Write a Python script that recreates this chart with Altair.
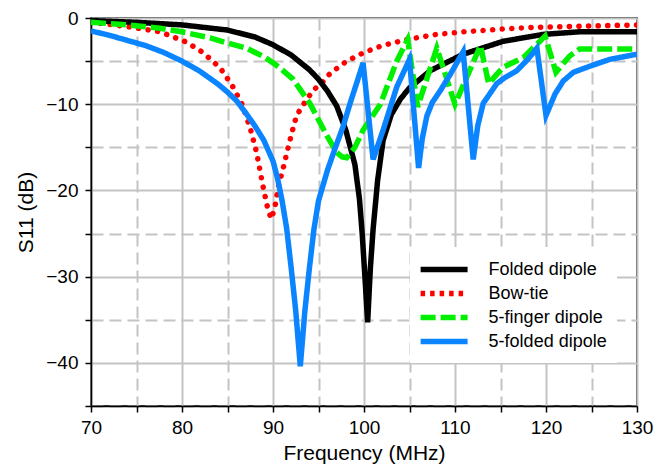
import altair as alt
import pandas as pd

series_names = ["Folded dipole", "Bow-tie", "5-finger dipole", "5-folded dipole"]
series_colors = ["#000000", "#ff0000", "#00f000", "#0a84ff"]
series_dashes = [[1, 0], [4.5, 5], [15, 5], [1, 0]]
dot_dash = [0.1, 9.5]

folded_f = [70, 75, 80, 85, 88, 90, 92, 94, 95, 96, 97, 98, 99, 99.5, 99.8, 100.1, 100.4,
            100.7, 101.0, 101.5, 102.1, 103, 104, 105, 107.3, 110.9, 115.3, 119.7, 123.7, 130]
folded_s = [-0.3, -0.5, -0.8, -1.4, -2.2, -3.1, -4.3, -6.0, -7.1, -8.5, -10.2, -13.0, -17.0, -21.0, -25.0, -30.0, -35.3,
            -29.0, -24.5, -18.8, -14.2, -11.2, -9.4, -8.1, -6.1, -4.2, -2.7, -1.9, -1.6, -1.6]

bowtie_f = [70, 74, 77.6, 80.5, 82.3, 84.2, 85.5, 86.6, 87.5, 88.2, 88.9, 89.4, 89.8, 90.2, 90.6,
            91.1, 91.6, 92.1, 92.6, 93.3, 94.4, 95.4, 96.3, 98.1, 100, 102, 104.7, 108, 111, 115,
            118, 122, 126, 130]
bowtie_s = [-0.5, -1.0, -1.6, -2.8, -4.0, -5.8, -7.8, -10.0, -12.8, -15.6, -19.5, -22.0, -23.3, -22.0, -19.5,
            -17.5, -15.3, -13.2, -11.3, -10.1, -8.4, -7.5, -6.4, -5.0, -4.0, -3.2, -2.5, -1.9, -1.6, -1.3,
            -1.1, -1.0, -0.9, -0.8]

finger_f = [70, 74, 77.6, 80, 83.1, 85, 87.1, 89, 90, 91, 92.2, 93, 94.1, 95, 96, 97, 97.6, 98.1, 99, 99.9,
            101.8, 103.6, 104.8, 105.9, 108, 110, 112.8, 113.7, 115.3, 117.5, 119.9, 121.1, 122.6, 123.7, 130]
finger_s = [-0.5, -0.8, -1.2, -1.6, -2.3, -2.9, -3.5, -4.5, -5.2, -6.0, -7.1, -8.3, -10.0, -11.8, -13.8, -15.6, -16.1, -16.2, -15.0, -13.0,
            -10.0, -5.0, -2.5, -10.3, -3.5, -10.0, -3.2, -7.6, -5.7, -4.6, -2.1, -6.3, -4.4, -3.6, -3.6]

fivefold_f = [70, 72, 74, 76, 78, 80, 82, 84, 85, 86, 87, 88, 89, 90, 90.5, 91, 91.5, 92, 92.5, 93,
              93.5, 94, 94.5, 95, 96, 97, 97.7, 98.5, 99.3, 99.9,
              101, 102.1, 103.6, 105,
              106, 106.4, 106.9, 107.5, 108.4, 109.5, 110.9,
              112, 112.5, 113.1, 114.6, 115.5, 116.8, 118, 119,
              120, 121, 121.9, 123, 124.8, 127, 130]
fivefold_s = [-1.5, -2.0, -2.6, -3.2, -4.0, -5.0, -6.2, -7.7, -8.6, -9.6, -11.0, -12.5, -14.2, -16.6, -18.6, -21.2, -24.4, -29.0, -34.0, -40.4,
              -34.0, -29.0, -24.5, -21.2, -17.6, -14.6, -12.6, -9.8, -7.2, -5.2,
              -16.4, -13.0, -8.0, -4.8,
              -17.4, -14.0, -11.4, -9.8, -8.4, -6.5, -3.9,
              -16.4, -12.5, -9.9, -7.6, -6.9, -6.1, -4.8, -3.5,
              -11.3, -8.8, -7.3, -6.3, -5.6, -4.8, -4.2]

x_ticks = [70, 75, 80, 85, 90, 95, 100, 105, 110, 115, 120, 125, 130]
y_ticks = [-45, -40, -35, -30, -25, -20, -15, -10, -5, 0]

rows = []
for name, fs, ss in zip(series_names,
                        [folded_f, bowtie_f, finger_f, fivefold_f],
                        [folded_s, bowtie_s, finger_s, fivefold_s]):
    for f, s in zip(fs, ss):
        rows.append({"series": name, "freq": f, "s11": s})
df = pd.DataFrame(rows)

FONT = "Liberation Sans"
grid_dash = {"condition": {"test": "datum.value % 10 != 0", "value": [12, 6]}, "value": [1, 0]}

legend = alt.Legend(
    title=None,
    orient="none",
    legendX=319,
    legendY=229,
    fillColor="white",
    padding=10,
    symbolType="M-2.5,0H2.5",
    symbolSize=353,
    symbolStrokeWidth=5.5,
    symbolOffset=11.6,
    labelOffset=32,
    labelFont=FONT,
    labelFontSize=18,
    labelColor="black",
    rowPadding=0,
)

x_enc = alt.X("freq:Q",
              scale=alt.Scale(domain=[70, 130], nice=False, zero=False),
              axis=alt.Axis(values=x_ticks, title="Frequency (MHz)",
                            labelExpr="datum.value % 10 == 0 ? datum.label : ''",
                            gridDash=grid_dash, labelFlush=False, labelOverlap=False,
                            labelPadding=6, titlePadding=5))
y_enc = alt.Y("s11:Q",
              scale=alt.Scale(domain=[-45, 0], nice=False, zero=False),
              axis=alt.Axis(values=y_ticks, title="S11 (dB)",
                            labelExpr="datum.value % 10 == 0 ? datum.label : ''",
                            gridDash=grid_dash, labelFlush=False, labelOverlap=False,
                            labelPadding=7, titlePadding=9))

base = alt.Chart(df)

# Bow-tie drawn as round dots (under the other curves)
red_dots = base.transform_filter(alt.datum.series == "Bow-tie").mark_line(
    strokeCap="round", strokeWidth=5.5, clip=True, color="#ff0000", strokeDash=dot_dash
).encode(x=x_enc, y=y_enc)

others = base.transform_filter(alt.datum.series != "Bow-tie").mark_line(
    strokeWidth=5.5, clip=True
).encode(
    x=x_enc,
    y=y_enc,
    color=alt.Color("series:N", sort=series_names,
                    scale=alt.Scale(domain=series_names, range=series_colors),
                    legend=legend),
    strokeDash=alt.StrokeDash("series:N", sort=series_names,
                              scale=alt.Scale(domain=series_names, range=series_dashes),
                              legend=legend),
)

chart = alt.layer(red_dots, others).properties(
    width=546,
    height=388,
    autosize="none",
    padding={"left": 83, "top": 10, "right": 25, "bottom": 64},
).configure_view(
    stroke="black", strokeWidth=1.5
).configure_axis(
    labelFont=FONT, labelFontSize=19, labelColor="black",
    titleFont=FONT, titleFontSize=21, titleFontWeight="normal", titleColor="black",
    domainColor="black", domainWidth=1.5,
    tickColor="black", tickWidth=1.5, tickSize=6,
    gridColor="#c4c4c4", gridWidth=2, gridOpacity=1,
)

chart.save("out.html", embed_options={"renderer": "svg", "actions": False})
